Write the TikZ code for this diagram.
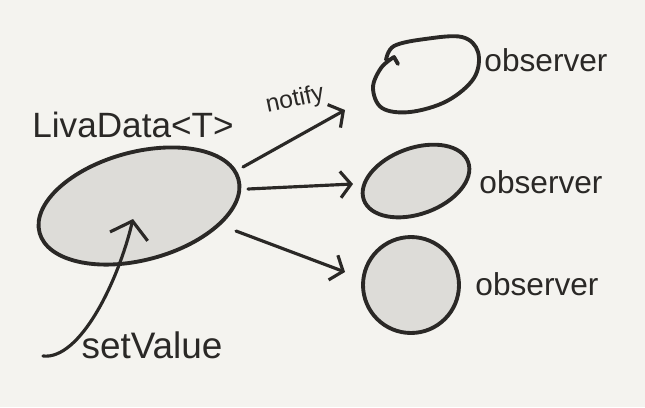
\documentclass[tikz,border=0pt]{standalone}
\usepackage{fontspec}
\setmainfont{Liberation Sans}
\usetikzlibrary{shapes.geometric,arrows.meta}
\definecolor{paper}{HTML}{F4F3EF}
\definecolor{blob}{HTML}{DDDCD8}
\definecolor{ink}{HTML}{2A2826}
\begin{document}
\begin{tikzpicture}[x=0.02cm,y=-0.02cm, line cap=round, line join=round,
  blobstyle/.style={draw=ink, line width=2.2pt, fill=blob},
  inkline/.style={draw=ink, line width=2.2pt},
  arr/.style={draw=ink, line width=1.8pt, -{Straight Barb[length=6pt,width=15pt]}},
  bigarr/.style={draw=ink, line width=1.8pt, -{Straight Barb[length=9pt,width=22pt]}},
  hand/.style={text=ink, inner sep=0pt}]
\fill[paper] (0,0) rectangle (645,407);
\useasboundingbox (0,0) rectangle (645,407);

% shapes
\node[blobstyle, ellipse, minimum width=4.12cm, minimum height=2.16cm, rotate=15] (live) at (139,206) {};
\node[blobstyle, ellipse, minimum width=2.22cm, minimum height=1.32cm, rotate=20] (obs2) at (416,181) {};
\node[blobstyle, circle, minimum size=1.92cm] (obs3) at (411,285) {};
\coordinate (obs1) at (425,75);
\draw[inkline] plot[smooth, tension=0.6] coordinates {(386,60) (394,46) (425,39) (462,37) (478,52) (474,78) (447,101) (410,112) (382,108) (373,88) (381,68) (394,57)} -- (398,64);

% texts
\node[hand, font=\fontsize{20}{24}\selectfont] (ltitle) at (133,125) {LivaData<T>};
\node[hand, font=\fontsize{14}{16}\selectfont, rotate=12] (notify) at (295,100) {notify};
\node[hand, font=\fontsize{18}{22}\selectfont] (o1) at (546,60) {observer};
\node[hand, font=\fontsize{18}{22}\selectfont] (o2) at (541,182) {observer};
\node[hand, font=\fontsize{18}{22}\selectfont] (o3) at (537,284) {observer};
\node[hand, font=\fontsize{21}{24}\selectfont] (setv) at (152,345) {setValue};

% connectors
\coordinate (a1s) at (243,167); \coordinate (a1e) at (345,110);
\coordinate (a2s) at (248,189); \coordinate (a2e) at (353,184);
\coordinate (a3s) at (236,231); \coordinate (a3e) at (345,272);
\draw[arr] (a1s) -- (a1e);
\draw[arr] (a2s) -- (a2e);
\draw[arr] (a3s) -- (a3e);
\coordinate (svs) at (43,356); \coordinate (sve) at (133,219);
\draw[bigarr] (svs) .. controls (80,360) and (118,282) .. (sve);
\end{tikzpicture}
\end{document}
